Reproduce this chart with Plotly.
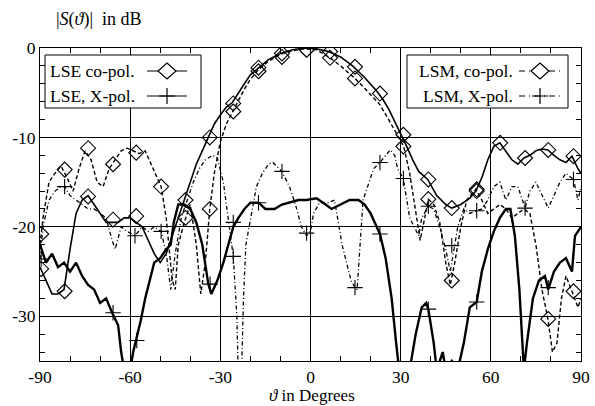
import plotly.graph_objects as go

# ---------------- data ----------------
lse_co_theta = [-90, -88, -86, -84, -82, -80, -78, -76, -74, -72, -70, -68, -66, -64, -62, -60, -58, -56, -54,
                -52, -50, -48, -46, -44, -42, -40, -38, -36, -34, -32, -30, -28, -26, -24, -22, -20, -17, -14,
                -10, -6, -2, 2, 6, 10, 14, 18, 22, 24, 26, 28, 30, 32, 34, 36, 39, 42, 45, 47, 50, 53, 55, 57,
                59, 61, 63, 65, 67, 69, 71, 73, 75, 77, 79, 81, 83, 85, 87, 89, 90]
lse_co_db = [-24.5, -26, -27.5, -27.5, -27, -22.5, -18.5, -17, -16.5, -17.5, -18.5, -19.5, -19.5, -19.5, -19,
             -19, -19.5, -20, -21.5, -23, -24, -23, -21, -19, -17, -15, -13, -11.5, -10, -8.5, -7.5, -6.6,
             -6.1, -5, -4, -3, -2.2, -1.3, -0.6, -0.2, 0, -0.1, -0.4, -1, -2, -3.3, -4.8, -5.7, -6.8, -8.2,
             -9.5, -11, -12.5, -13.8, -14.7, -16.5, -17.5, -17.9, -17.5, -16.8, -16, -14.5, -12.5, -11, -10.6,
             -11.5, -12.5, -13, -12.3, -12, -11.5, -11.3, -11.4, -12, -12.5, -12.8, -12.1, -13.5, -14]
lse_co_mk_theta = [-89.6, -81.8, -74, -65.7, -58, -41.6, -33.5, -25.7, -17.3, -9.5, -1.3, 6.5, 14.8, 23.1,
                   30.9, 39.2, 47, 55.3, 63.1, 71.4, 79.1, 87.5]
lse_co_mk_db = [-24.7, -27.2, -16.6, -19.2, -18.8, -17, -10, -6.2, -2.2, -0.6, -0.2, -0.4, -2.1, -5.1,
                -9.7, -14.7, -17.9, -16, -10.6, -12.3, -11.4, -12.1]

lse_x_theta = [-90, -88, -86, -84, -82, -80, -78, -76, -74, -72, -70, -68, -66, -64, -63, -62, -61, -60, -59,
               -58, -56.5, -55, -53.5, -52, -50, -48, -46.5, -45.5, -44, -42, -40, -38, -36, -34, -33, -31,
               -29, -27, -25.7, -24, -22, -20, -17.3, -15, -12, -9.5, -7, -4, -1.3, 2, 5, 7, 10, 13, 16, 18,
               20, 22, 23.1, 25, 27, 28.5, 29.5, 31, 33, 35, 37, 38.5, 39.2, 41, 42, 44, 45, 47, 49, 51, 53,
               55.3, 57, 59, 61, 63, 65, 66.5, 68, 69.5, 71, 72, 74, 76, 78, 79.1, 81, 83, 85, 87, 88, 90]
lse_x_db = [-22, -24, -23, -24.5, -24, -25, -24, -25.5, -26.5, -27, -28.5, -28, -29.6, -31, -34, -36, -36,
            -36, -34, -32.7, -30.5, -28, -26, -24, -23.5, -22.5, -22, -19.5, -17.5, -17.5, -18, -19.5, -22,
            -26.4, -27.5, -26, -24, -21.5, -20, -19, -18, -17.3, -17.3, -18, -18, -17.5, -17.3, -17, -17,
            -16.8, -17.5, -18, -17.5, -17, -17, -17.5, -18.5, -20, -20.8, -23.5, -28, -33, -36, -36, -36,
            -32, -29, -28.5, -29.2, -33, -36, -34, -36, -35, -36, -33, -29, -28.4, -25, -22.5, -20.5, -19,
            -18, -18, -21, -27, -36, -33, -28, -26, -25.5, -27, -25, -24, -23.5, -25, -21, -20]
lse_x_mk_theta = [-65.7, -57.8, -33.4, -25.7, -17.3, 23.1, 39.2, 55.3, 79.1]
lse_x_mk_db = [-29.6, -32.7, -26.4, -19.5, -17.3, -20.8, -29.2, -28.4, -26.8]

lsm_co_theta = [-90, -89, -87, -85, -83, -81, -79, -77, -75, -73, -71, -69, -67, -65, -63, -61, -59, -57,
                -55, -53, -51, -49.7, -48, -46, -45, -44, -42, -40, -38, -36.5, -35, -33.5, -32, -30, -28,
                -26, -24, -22, -20, -17.3, -14, -10, -6, -2, 2, 6.5, 10, 14.8, 18, 23, 26, 28.5, 31, 33, 35,
                36.5, 38, 39.2, 41, 43, 45, 46.5, 48, 50, 52, 55, 57, 59, 61, 63, 65, 67, 69, 71, 73, 75, 77,
                79, 80.5, 82, 83.5, 85, 87, 89, 90]
lsm_co_db = [-22, -19, -15, -14, -13.2, -14.5, -16, -13.5, -11.5, -12.5, -15, -15.5, -13.5, -12.5, -11.5,
             -11.2, -11.5, -11.8, -11.5, -13, -14.5, -15.5, -19, -26, -27, -22, -19.5, -17.5, -22, -27.5,
             -24, -18, -14, -10.5, -8.5, -7.2, -6, -4.6, -3.5, -2.4, -1.5, -0.7, -0.3, -0.1, -0.2, -1.1, -2,
             -3.4, -4.5, -6.3, -8, -9.5, -11, -14, -18, -21.5, -19, -16.9, -17.5, -19.5, -24, -26.5, -24,
             -20, -17, -15.8, -17, -18.5, -18, -17.5, -18, -19, -18.5, -18, -18.5, -22, -27, -30.3, -34, -33,
             -28, -25.5, -27.2, -29, -28]
lsm_co_mk_theta = [-89.6, -81.8, -74, -65.7, -58, -49.7, -41.6, -33.5, -25.7, -17.3, -9.5, -1.3, 6.5,
                   14.8, 30.9, 39.2, 47, 55.3, 79.1, 87.5]
lsm_co_mk_db = [-20.8, -13.6, -11.2, -13, -11.7, -15.5, -19, -18, -7.1, -2.6, -1, -0.2, -1.1, -3.4, -11,
                -16.9, -26, -15.8, -30.3, -27.2]

lsm_x_theta = [-90, -89, -87, -85, -83, -81.8, -80, -78, -76, -74, -72, -70, -68, -66, -65, -63, -61, -58.4,
               -56, -54, -52, -49.7, -48, -46.5, -45, -43, -41, -39, -37, -35, -32.5, -31, -29, -27.5,
               -25.7, -24.5, -24, -23, -22.3, -21.5, -20, -18, -16, -14, -12.5, -11, -9.5, -7, -5, -3, -1.3,
               0, 1, 3, 6, 8, 9, 10.5, 12, 13.5, 14.8, 15.5, 16.5, 17.5, 19, 21, 23.1, 25, 26.5, 28, 29,
               30.9, 32, 33, 34.5, 36, 37, 39.2, 41, 43, 45, 46.5, 47.5, 49, 51, 53, 55.3, 57, 59, 61, 63,
               65, 67, 69, 71.4, 73, 75, 77, 79.1, 81, 83, 85, 87.5, 89, 90]
lsm_x_db = [-23.6, -20, -17, -16, -15.5, -15.5, -16.5, -17, -17.5, -18, -18, -18.5, -19, -21.5, -22.5, -20,
            -20.5, -21, -20, -20.5, -20, -20.5, -23, -27, -23, -19, -17, -15, -13.5, -12.5, -12, -12.3, -15,
            -19, -23.3, -30, -37, -37, -28, -22, -19, -15.5, -14, -13, -12.8, -13.3, -13.8, -15.5, -17.5,
            -20, -21, -20.5, -18.5, -17.3, -17.3, -17, -19, -22, -24, -26, -26.8, -27, -22, -17, -15.5,
            -13.5, -12.8, -12, -11.4, -12, -13.5, -14.6, -17, -19, -20, -21, -19, -17.7, -18, -20, -22.5,
            -25, -23, -20, -18, -18.5, -18.2, -18, -17, -15.5, -15, -17, -15.5, -15.5, -17.9, -16, -15,
            -16.5, -17.9, -16.5, -15, -14, -14.7, -17, -15.5]
lsm_x_mk_theta = [-89.6, -81.8, -58.4, -49.7, -25.7, -9.5, -1.3, 14.8, 23.1, 30.9, 39.2, 47, 55.3, 71.4,
                  87.5]
lsm_x_mk_db = [-23.6, -15.5, -21, -20.5, -23.3, -13.8, -20.7, -26.8, -12.8, -14.6, -17.7, -22.1, -18.2,
               -17.9, -14.7]

x_tick_vals = [-90, -60, -30, 0, 30, 60, 90]
x_tick_text = ["-90", "-60", "-30", "0", "30", "60", "90"]
y_tick_vals = [0, -10, -20, -30]
y_tick_text = ["0", "-10", "-20", "-30"]

legend_left = ["LSE co-pol.", "LSE, X-pol."]
legend_right = ["LSM, co-pol.", "LSM, X-pol."]

# ---------------- styling ----------------
FONT = "Liberation Serif, Times New Roman, serif"
W, H = 595, 406
L, R, T, B = 40, 14, 48, 45
PW, PH = W - L - R, H - T - B

DASH_CO = "4px,2.5px"
DASH_X = "4px,2.5px,1px,2.5px"

fig = go.Figure()

def add_series(th, db, mth, mdb, dash, width, symbol, msize):
    fig.add_trace(go.Scatter(x=th, y=db, mode="lines",
                             line=dict(color="black", width=width, dash=dash),
                             showlegend=False, hoverinfo="skip"))
    fig.add_trace(go.Scatter(x=mth, y=mdb, mode="markers",
                             marker=dict(symbol=symbol, size=msize, color="black",
                                         line=dict(color="black", width=1.1)),
                             showlegend=False, hoverinfo="skip"))

add_series(lse_x_theta, lse_x_db, lse_x_mk_theta, lse_x_mk_db, "solid", 2.4, "cross-thin-open", 11)
add_series(lsm_x_theta, lsm_x_db, lsm_x_mk_theta, lsm_x_mk_db, DASH_X, 1.3, "cross-thin-open", 11)
add_series(lsm_co_theta, lsm_co_db, lsm_co_mk_theta, lsm_co_mk_db, DASH_CO, 1.4, "diamond-open", 11.5)
add_series(lse_co_theta, lse_co_db, lse_co_mk_theta, lse_co_mk_db, "solid", 1.6, "diamond-open", 11.5)

def px_x(px):
    return (px - L) / PW

def px_y(py):
    return (H - B - py) / PH

shapes = []
annotations = []

# legend boxes
for x0, x1 in [(45, 201), (407, 568)]:
    shapes.append(dict(type="rect", xref="paper", yref="paper", layer="above",
                       x0=px_x(x0), x1=px_x(x1), y0=px_y(108), y1=px_y(55),
                       fillcolor="white", line=dict(color="black", width=1)))

def diamond_path(cx, cy, hw, hh):
    pts = [(cx, cy - hh), (cx + hw, cy), (cx, cy + hh), (cx - hw, cy)]
    s = "M " + " L ".join(f"{px_x(a):.5f},{px_y(b):.5f}" for a, b in pts) + " Z"
    return s

def plus_path(cx, cy, h):
    return (f"M {px_x(cx - h):.5f},{px_y(cy):.5f} L {px_x(cx + h):.5f},{px_y(cy):.5f} "
            f"M {px_x(cx):.5f},{px_y(cy - h):.5f} L {px_x(cx):.5f},{px_y(cy + h):.5f}")

# left legend samples
for (y, dash, kind, label) in [(71, "solid", "d", legend_left[0]), (96, "solid", "p", legend_left[1])]:
    shapes.append(dict(type="line", xref="paper", yref="paper", layer="above",
                       x0=px_x(147), x1=px_x(187), y0=px_y(y), y1=px_y(y),
                       line=dict(color="black", width=1.2, dash=dash)))
    if kind == "d":
        shapes.append(dict(type="path", xref="paper", yref="paper", layer="above",
                           path=diamond_path(167, y, 9, 8), fillcolor="white",
                           line=dict(color="black", width=1.2)))
    else:
        shapes.append(dict(type="path", xref="paper", yref="paper", layer="above",
                           path=plus_path(167, y, 8), line=dict(color="black", width=1.2)))
    annotations.append(dict(xref="paper", yref="paper", x=px_x(48), y=px_y(y), text=label,
                            showarrow=False, xanchor="left", yanchor="middle",
                            font=dict(family=FONT, size=17.5, color="black")))

# right legend samples
for (y, dash, kind, label) in [(71, DASH_X, "d", legend_right[0]), (96, DASH_X, "p", legend_right[1])]:
    shapes.append(dict(type="line", xref="paper", yref="paper", layer="above",
                       x0=px_x(519), x1=px_x(564), y0=px_y(y), y1=px_y(y),
                       line=dict(color="black", width=1.2, dash="6px,4px,1px,4px")))
    if kind == "d":
        shapes.append(dict(type="path", xref="paper", yref="paper", layer="above",
                           path=diamond_path(540, y, 9, 8), fillcolor="white",
                           line=dict(color="black", width=1.2)))
    else:
        shapes.append(dict(type="path", xref="paper", yref="paper", layer="above",
                           path=plus_path(540, y, 8), line=dict(color="black", width=1.2)))
    annotations.append(dict(xref="paper", yref="paper", x=px_x(515), y=px_y(y), text=label,
                            showarrow=False, xanchor="right", yanchor="middle",
                            font=dict(family=FONT, size=17.5, color="black")))

# titles
annotations.append(dict(xref="paper", yref="paper", x=px_x(54), y=px_y(19),
                        text="|<i>S</i>(<i>ϑ</i>)|\u2002in dB", showarrow=False,
                        xanchor="left", yanchor="middle",
                        font=dict(family=FONT, size=18, color="black")))
annotations.append(dict(xref="paper", yref="paper", x=px_x(312), y=px_y(395),
                        text="<i>ϑ</i> in Degrees", showarrow=False,
                        xanchor="center", yanchor="middle",
                        font=dict(family=FONT, size=17, color="black")))

axis_common = dict(showline=True, linecolor="black", linewidth=1, mirror="ticks",
                   ticks="inside", ticklen=5, tickcolor="black", tickwidth=1,
                   showgrid=True, gridcolor="black", gridwidth=1, zeroline=False,
                   automargin=False,
                   tickfont=dict(family=FONT, size=17.5, color="black"))

fig.update_layout(
    width=W, height=H,
    margin=dict(l=L, r=R, t=T, b=B),
    paper_bgcolor="white", plot_bgcolor="white",
    xaxis=dict(range=[-90, 90], tickmode="array", tickvals=x_tick_vals, ticktext=x_tick_text,
               minor=dict(dtick=10, tick0=0, ticks="inside", ticklen=5, tickcolor="black", showgrid=False),
               **axis_common),
    yaxis=dict(range=[-35, 0], tickmode="array", tickvals=y_tick_vals, ticktext=y_tick_text,
               minor=dict(dtick=2, tick0=0, ticks="inside", ticklen=5, tickcolor="black", showgrid=False),
               **axis_common),
    shapes=shapes, annotations=annotations, showlegend=False,
)

fig.write_html("out.html", config={"displayModeBar": False},
               post_script="document.body.style.margin='0';document.body.style.padding='0';")
